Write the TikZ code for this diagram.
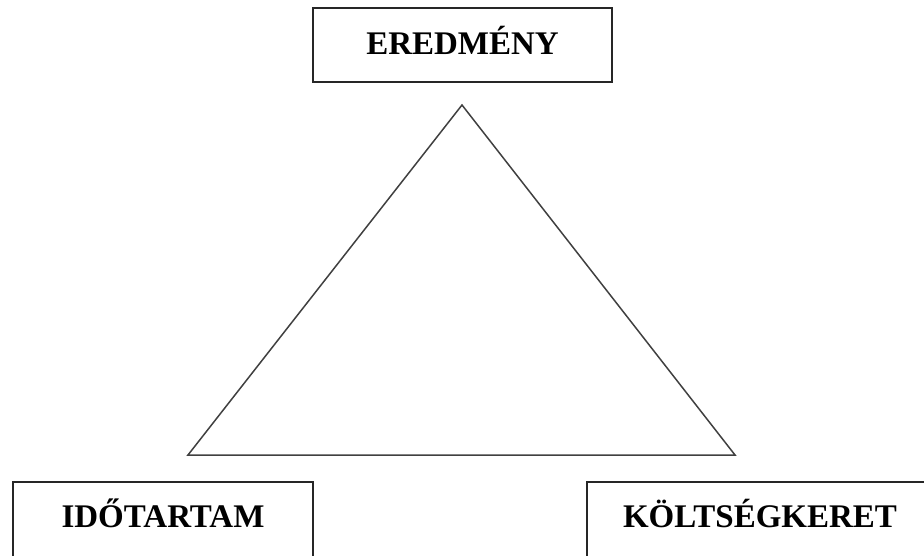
\documentclass[tikz,border=0pt]{standalone}
\usepackage{fontspec}
\setmainfont{Liberation Serif}
\begin{document}
\begin{tikzpicture}[x=1pt,y=-1pt,
  labelbox/.style={draw=black!85, line width=2pt, inner sep=0pt, align=center,
    anchor=base, font=\fontsize{33}{36}\selectfont\bfseries},
  tri/.style={draw=black!75, line width=1.5pt, line join=miter}]
\useasboundingbox (0,0) rectangle (924,556);
\clip (0,0) rectangle (924,556);
\node[labelbox, text width=299pt, text height=47pt, text depth=27pt] (res) at (462.5,55) {EREDMÉNY};
\node[labelbox, text width=300pt, text height=45pt, text depth=45pt] (time) at (163,527) {IDŐTARTAM};
\node[labelbox, text width=346pt, text height=45pt, text depth=45pt] (cost) at (760,527) {KÖLTSÉGKERET};
\coordinate (apex) at (462,105);
\coordinate (bl) at (188,455);
\coordinate (br) at (735,455);
\draw[tri] (apex) -- (bl) -- (br) -- cycle;
\end{tikzpicture}
\end{document}
